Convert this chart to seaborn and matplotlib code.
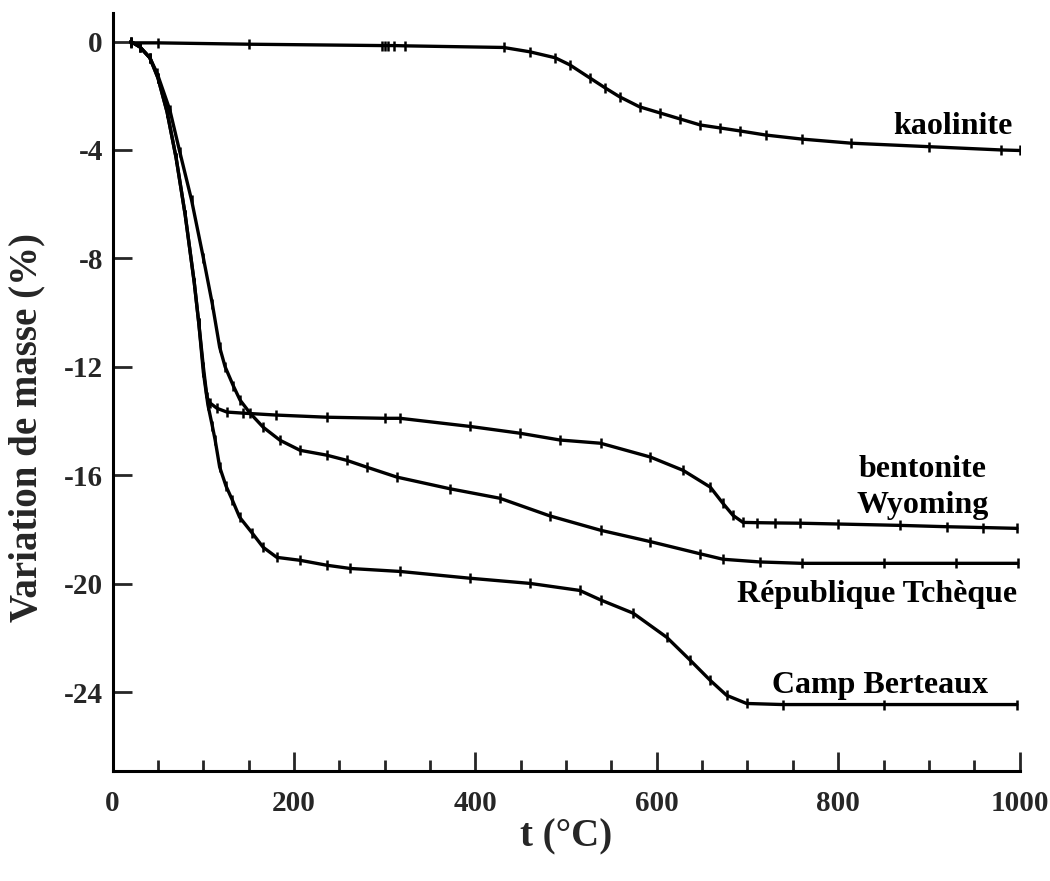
import matplotlib
matplotlib.use("Agg")
import matplotlib.pyplot as plt
from matplotlib.ticker import MultipleLocator
import seaborn as sns
import pandas as pd

# Thermogravimetric curves: mass change (%) versus temperature (°C)
kaolinite_t = [20, 50, 150, 297, 300, 304, 310, 322, 431, 460, 488, 504, 526, 543, 559,
               581, 604, 626, 648, 670, 692, 720, 760, 814, 900, 979, 1000]
kaolinite_m = [-0.05, -0.05, -0.1, -0.15, -0.15, -0.15, -0.15, -0.16, -0.22, -0.38, -0.6,
               -0.86, -1.34, -1.71, -2.04, -2.41, -2.64, -2.86, -3.08, -3.19, -3.3, -3.45,
               -3.6, -3.75, -3.88, -4.0, -4.02]

wyoming_t = [20, 30, 41, 50, 60, 70, 80, 90, 95, 100, 104, 107.5, 115, 126, 144, 180, 236,
             300, 317, 394, 449, 493, 538, 593, 629, 659, 673, 684, 695, 710, 730, 758,
             800, 868, 920, 960, 997]
wyoming_m = [0, -0.2, -0.6, -1.35, -2.6, -4.3, -6.4, -8.9, -10.4, -12.0, -13.12, -13.34,
             -13.53, -13.67, -13.71, -13.78, -13.86, -13.9, -13.9, -14.2, -14.45, -14.7,
             -14.82, -15.33, -15.82, -16.44, -17.04, -17.48, -17.74, -17.75, -17.76, -17.77,
             -17.8, -17.85, -17.9, -17.93, -17.96]

tcheque_t = [20, 30, 41, 49, 63, 74, 87, 100, 110, 118, 124, 133, 140.5, 151.5, 166, 184.5,
             206.6, 236, 258, 280, 313.5, 372, 427, 482, 538, 593, 648, 673, 714, 760, 850,
             930, 998]
tcheque_m = [0, -0.2, -0.6, -1.17, -2.52, -4.07, -5.85, -7.98, -9.7, -11.28, -12.0, -12.7,
             -13.23, -13.71, -14.23, -14.71, -15.08, -15.26, -15.45, -15.7, -16.07, -16.5,
             -16.85, -17.5, -18.03, -18.45, -18.9, -19.1, -19.2, -19.25, -19.25, -19.25,
             -19.25]

berteaux_t = [20, 30, 41, 50, 60, 70, 80, 90, 95, 100, 105, 110, 113, 118, 125, 132, 140,
              154, 166, 181, 207, 236, 262, 317, 394, 460, 515, 538, 574, 611, 637, 659,
              677, 699, 739, 850, 997]
berteaux_m = [0, -0.2, -0.6, -1.35, -2.6, -4.3, -6.4, -8.9, -10.4, -12.2, -13.4, -14.2,
              -14.7, -15.7, -16.4, -16.92, -17.55, -18.14, -18.66, -19.03, -19.14, -19.32,
              -19.44, -19.55, -19.8, -19.99, -20.25, -20.6, -21.09, -21.98, -22.83, -23.57,
              -24.12, -24.42, -24.46, -24.46, -24.46]

x_ticks = [0, 200, 400, 600, 800, 1000]
y_ticks = [0, -4, -8, -12, -16, -20, -24]

series = {
    "kaolinite": (kaolinite_t, kaolinite_m),
    "bentonite Wyoming": (wyoming_t, wyoming_m),
    "République Tchèque": (tcheque_t, tcheque_m),
    "Camp Berteaux": (berteaux_t, berteaux_m),
}

sns.set_theme(style="ticks")
plt.rcParams["font.family"] = ["Liberation Serif", "DejaVu Serif"]
plt.rcParams["font.weight"] = "bold"

fig = plt.figure(figsize=(10.5, 8.81), dpi=100)
ax = fig.add_axes([0.1073, 0.1252, 0.8637, 0.86])

for name, (t, m) in series.items():
    df = pd.DataFrame({"t": t, "m": m})
    sns.lineplot(data=df, x="t", y="m", ax=ax, color="black", linewidth=2.4,
                 marker="|", markersize=6.5, markeredgewidth=1.8,
                 markeredgecolor="black", estimator=None, sort=False)

ax.set_xlim(0, 1000)
ax.set_ylim(-26.9, 1.05)
ax.set_xticks(x_ticks)
ax.set_yticks(y_ticks)
ax.xaxis.set_minor_locator(MultipleLocator(50))
ax.set_xticklabels([str(v) for v in x_ticks], fontsize=21, fontweight="bold")
ax.set_yticklabels([str(v) for v in y_ticks], fontsize=21, fontweight="bold")

ax.tick_params(axis="x", which="major", direction="in", length=14, width=2, pad=14)
ax.tick_params(axis="x", which="minor", direction="in", length=8, width=2)
ax.tick_params(axis="y", which="major", direction="in", length=14, width=2, pad=7)

for side in ("top", "right"):
    ax.spines[side].set_visible(False)
for side in ("left", "bottom"):
    ax.spines[side].set_linewidth(2.2)
    ax.spines[side].set_color("black")

ax.set_xlabel("t (°C)", fontsize=28, fontweight="bold")
ax.set_ylabel("Variation de masse (%)", fontsize=28, fontweight="bold")
ax.xaxis.set_label_coords(0.5, -0.088)
ax.yaxis.set_label_coords(-0.095, 0.453)
ax.xaxis.label.set_va("center")
ax.yaxis.label.set_va("center")

label_kw = dict(fontsize=23, fontweight="bold", ha="center", va="baseline", color="black")
ax.text(926.7, -3.41, "kaolinite", **label_kw)
ax.text(893.6, -16.07, "bentonite", **label_kw)
ax.text(893.6, -17.41, "Wyoming", **label_kw)
ax.text(842.8, -20.69, "République Tchèque", **label_kw)
ax.text(846.0, -24.05, "Camp Berteaux", **label_kw)

fig.savefig("out.png", dpi=100, facecolor="white")
